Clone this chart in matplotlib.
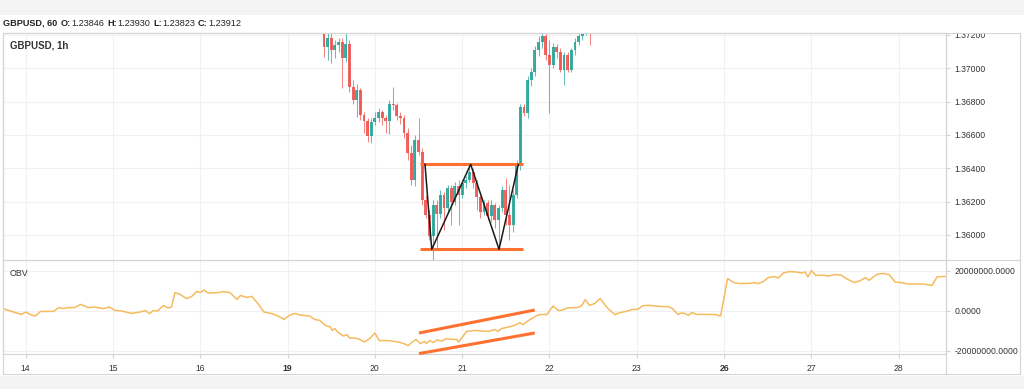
import numpy as np
import matplotlib
matplotlib.use("Agg")
import matplotlib.pyplot as plt
from matplotlib.patches import Rectangle
from matplotlib.lines import Line2D
from matplotlib.ticker import FuncFormatter

plt.rcParams['font.family'] = ['Liberation Sans', 'DejaVu Sans']

# x axis = trading sessions, 0 = the 14th, weekend skipped
day_labels = ["14", "15", "16", "19", "20", "21", "22", "23", "26", "27", "28"]
bold_days = ["19", "26"]

# hourly GBPUSD candles, hour counted from 00:00 of the 19th
candle_hour = list(range(10, 84))
opens = [1.37230, 1.37128, 1.37182, 1.37110, 1.37140, 1.37158, 1.37062, 1.37146, 1.36888, 1.36810,
         1.36870, 1.36720, 1.36684, 1.36594, 1.36678, 1.36702, 1.36738, 1.36702, 1.36684, 1.36786,
         1.36780, 1.36714, 1.36702, 1.36612, 1.36492, 1.36330, 1.36570, 1.36498, 1.36210, 1.36120,
         1.35994, 1.36180, 1.36126, 1.36240, 1.36162, 1.36282, 1.36198, 1.36294, 1.36240, 1.36312,
         1.36330, 1.36378, 1.36312, 1.36228, 1.36138, 1.36192, 1.36114, 1.36180, 1.36090, 1.36162,
         1.36270, 1.36120, 1.36060, 1.36240, 1.36420, 1.36768, 1.36732, 1.36930, 1.36978, 1.37110,
         1.37158, 1.37194, 1.37080, 1.37020, 1.37128, 1.37098, 1.36990, 1.37080, 1.36990, 1.37110,
         1.37158, 1.37194, 1.37230, 1.37278]
highs = [1.37260, 1.37230, 1.37212, 1.37170, 1.37182, 1.37182, 1.37212, 1.37170, 1.36930, 1.36906,
         1.36882, 1.36738, 1.36702, 1.36702, 1.36738, 1.36762, 1.36750, 1.36720, 1.36810, 1.36888,
         1.36792, 1.36738, 1.36720, 1.36642, 1.36540, 1.36600, 1.36702, 1.36522, 1.36240, 1.36150,
         1.36210, 1.36210, 1.36270, 1.36258, 1.36300, 1.36300, 1.36318, 1.36330, 1.36330, 1.36354,
         1.36420, 1.36402, 1.36330, 1.36240, 1.36210, 1.36210, 1.36210, 1.36192, 1.36180, 1.36294,
         1.36342, 1.36300, 1.36270, 1.36450, 1.36786, 1.36786, 1.36954, 1.37002, 1.37134, 1.37194,
         1.37218, 1.37212, 1.37170, 1.37152, 1.37146, 1.37122, 1.37098, 1.37098, 1.37122, 1.37182,
         1.37212, 1.37260, 1.37290, 1.37320]
lows = [1.37068, 1.37050, 1.37032, 1.37062, 1.37098, 1.36882, 1.37038, 1.36858, 1.36786, 1.36708,
        1.36690, 1.36612, 1.36558, 1.36552, 1.36660, 1.36678, 1.36660, 1.36612, 1.36606, 1.36750,
        1.36690, 1.36666, 1.36582, 1.36450, 1.36300, 1.36294, 1.36480, 1.36180, 1.36102, 1.35970,
        1.35850, 1.35910, 1.36102, 1.36030, 1.36138, 1.36060, 1.36180, 1.36060, 1.36222, 1.36282,
        1.36318, 1.36282, 1.36150, 1.36102, 1.36120, 1.36090, 1.36078, 1.36042, 1.35940, 1.36138,
        1.36060, 1.35970, 1.36018, 1.36222, 1.36390, 1.36714, 1.36702, 1.36894, 1.36954, 1.37074,
        1.37122, 1.37050, 1.36732, 1.37002, 1.37062, 1.36978, 1.36900, 1.36978, 1.36978, 1.37080,
        1.37140, 1.37170, 1.37200, 1.37140]
closes = [1.37128, 1.37182, 1.37110, 1.37140, 1.37158, 1.37062, 1.37146, 1.36888, 1.36810, 1.36870,
          1.36720, 1.36684, 1.36594, 1.36678, 1.36702, 1.36738, 1.36702, 1.36684, 1.36786, 1.36780,
          1.36714, 1.36702, 1.36612, 1.36492, 1.36330, 1.36570, 1.36498, 1.36210, 1.36120, 1.35994,
          1.36180, 1.36126, 1.36240, 1.36162, 1.36282, 1.36198, 1.36294, 1.36240, 1.36312, 1.36330,
          1.36378, 1.36312, 1.36228, 1.36138, 1.36192, 1.36114, 1.36180, 1.36090, 1.36162, 1.36270,
          1.36120, 1.36060, 1.36240, 1.36420, 1.36768, 1.36732, 1.36930, 1.36978, 1.37110, 1.37158,
          1.37194, 1.37080, 1.37020, 1.37128, 1.37098, 1.36990, 1.37080, 1.36990, 1.37110, 1.37158,
          1.37194, 1.37230, 1.37260, 1.37230]

# OBV (session units, millions)
obv_x = [-0.26, -0.14, -0.05, 0.00, 0.05, 0.11, 0.17, 0.32, 0.38, 0.43, 0.49, 0.56, 0.63, 0.72, 0.79,
         0.89, 0.96, 1.02, 1.10, 1.21, 1.31, 1.37, 1.42, 1.46, 1.51, 1.58, 1.63, 1.67, 1.71, 1.77,
         1.84, 1.90, 1.96, 2.00, 2.04, 2.09, 2.21, 2.26, 2.34, 2.42, 2.46, 2.53, 2.59, 2.66, 2.73,
         2.82, 2.89, 2.96, 3.02, 3.08, 3.14, 3.25, 3.31, 3.37, 3.43, 3.49, 3.51, 3.54, 3.58, 3.64,
         3.68, 3.71, 3.77, 3.83, 3.88, 3.94, 4.00, 4.05, 4.15, 4.27, 4.33, 4.38, 4.42, 4.47, 4.52,
         4.57, 4.59, 4.63, 4.67, 4.71, 4.77, 4.82, 4.88, 4.94, 4.96, 5.05, 5.15, 5.22, 5.30, 5.38,
         5.41, 5.45, 5.53, 5.60, 5.66, 5.70, 5.76, 5.86, 5.91, 5.97, 6.04, 6.10, 6.14, 6.20, 6.33,
         6.37, 6.41, 6.46, 6.52, 6.58, 6.67, 6.75, 6.81, 6.88, 6.94, 6.97, 7.01, 7.07, 7.15, 7.25,
         7.36, 7.41, 7.47, 7.51, 7.55, 7.59, 7.63, 7.69, 7.80, 7.90, 7.96, 8.04, 8.11, 8.18, 8.30,
         8.34, 8.39, 8.45, 8.51, 8.58, 8.62, 8.68, 8.75, 8.83, 8.89, 8.93, 8.96, 9.00, 9.05, 9.12,
         9.19, 9.27, 9.34, 9.40, 9.49, 9.56, 9.62, 9.66, 9.75, 9.82, 9.89, 9.96, 10.03, 10.11, 10.28,
         10.38, 10.44, 10.49, 10.54]
obv_m = [1.2, -0.5, -1.7, -0.5, -1.7, -2.5, -0.2, -0.2, 1.7, 1.2, 1.7, 1.7, 3.3, 1.7, 2.0,
         1.2, 2.0, 0.3, 0.0, -1.2, -0.5, 0.2, -1.3, 0.2, 0.0, 2.8, 1.5, 2.0, 9.2, 8.3,
         6.2, 7.2, 9.8, 9.2, 10.5, 9.0, 9.2, 9.7, 9.2, 5.8, 7.8, 6.8, 7.3, 3.7, -0.5,
         -1.3, -2.5, -4.2, -2.2, -1.2, -2.0, -2.5, -4.2, -4.7, -7.2, -8.0, -9.7, -8.8, -10.8, -12.5,
         -11.8, -13.5, -13.5, -14.2, -15.5, -13.8, -11.0, -14.8, -14.8, -15.5, -16.3, -17.3, -15.8, -14.2, -16.3,
         -15.2, -16.2, -14.8, -15.8, -14.5, -15.0, -13.8, -14.2, -14.2, -15.5, -10.2, -9.7, -10.0, -10.2, -9.3,
         -10.2, -8.8, -8.0, -7.2, -5.8, -6.8, -4.7, -2.2, -1.7, -1.8, 2.5, 0.3, 0.3, 1.5, 1.8,
         2.8, 5.7, 2.8, 3.8, 6.2, 1.2, -1.8, -0.8, -0.2, 0.7, 0.8, 0.8, 2.7, 2.8, 2.3,
         2.2, 1.2, -1.7, -1.0, -1.2, -2.2, -0.8, -1.7, -1.7, -1.8, -2.5, 16.2, 14.2, 13.7, 13.8,
         14.2, 13.7, 14.8, 16.8, 17.2, 16.5, 19.0, 19.7, 19.5, 19.0, 19.5, 17.0, 20.2, 17.8, 18.0,
         17.5, 18.2, 18.0, 16.2, 14.2, 15.2, 16.7, 15.3, 18.3, 18.8, 18.2, 14.5, 14.2, 13.5, 13.5,
         12.8, 17.0, 17.2, 17.3]

# double bottom drawing
w_x = [4.574, 4.651, 5.097, 5.422, 5.643]
w_y = [1.36424, 1.35914, 1.36424, 1.35914, 1.36424]
box_x = [4.516, 5.693]
neck, base = 1.36424, 1.35914
div_x = [4.505, 5.831]
div_upper = [-11.0, 0.5]
div_lower = [-21.3, -11.0]

price_ticks = [1.360, 1.362, 1.364, 1.366, 1.368, 1.370, 1.372]
obv_ticks = [-20e6, 0, 20e6]

up_c = '#26a69a'
dn_c = '#ef5350'
grid_c = '#f1f1f1'
edge_c = '#d4d4d4'
mark_c = '#ff7131'

W, H = 1024, 389
fig = plt.figure(figsize=(W / 100, H / 100), dpi=100, facecolor='#f3f3f3')
fig.add_artist(Rectangle((0, 1 - 376 / H), 1, 361 / H, transform=fig.transFigure,
                         facecolor='white', edgecolor='none', zorder=-5))

ax = fig.add_axes([3 / W, 1 - 260 / H, 943 / W, 227 / H])
ax2 = fig.add_axes([3 / W, 1 - 354 / H, 943 / W, 94 / H], sharex=ax)

day_pos = list(range(len(day_labels)))

# candles
cx = 3 + np.array(candle_hour) / 24.0
for x, o, h, l, c in zip(cx, opens, highs, lows, closes):
    col = up_c if c >= o else dn_c
    ax.plot([x, x], [l, h], color=col, lw=0.75, alpha=0.7, solid_capstyle='butt', zorder=2)
    ax.add_patch(Rectangle((x - 0.0165, min(o, c)), 0.033, max(abs(c - o), 0.00002),
                           facecolor=col, edgecolor='none', alpha=0.9, zorder=3))

ax.plot(box_x, [neck, neck], color=mark_c, lw=2.2, solid_capstyle='butt', zorder=4)
ax.plot(box_x, [base, base], color=mark_c, lw=2.2, solid_capstyle='butt', zorder=4)
ax.plot(w_x, w_y, color='#1a1a1a', lw=1.1, zorder=5)

ax.set_xlim(-0.26, 10.542)
ax.set_ylim(1.3585, 1.37212)
ax.set_yticks(price_ticks)
ax.yaxis.set_major_formatter(FuncFormatter(lambda v, p: f"{v:.5f}"))
ax.set_xticks(day_pos)
ax.tick_params(axis='x', length=0, labelbottom=False)

# OBV
ax2.plot(obv_x, np.array(obv_m) * 1e6, color='#f5bb5e', lw=1.1, zorder=3)
ax2.plot(div_x, np.array(div_upper) * 1e6, color=mark_c, lw=2.2, solid_capstyle='butt', zorder=4)
ax2.plot(div_x, np.array(div_lower) * 1e6, color=mark_c, lw=2.2, solid_capstyle='butt', zorder=4,
         clip_on=False)
ax2.set_ylim(-21.5e6, 25.5e6)
ax2.set_yticks(obv_ticks)
ax2.yaxis.set_major_formatter(FuncFormatter(lambda v, p: f"{v:.4f}"))
ax2.set_xticks(day_pos)
ax2.set_xticklabels(day_labels)
for t in ax2.get_xticklabels():
    if t.get_text() in bold_days:
        t.set_fontweight('bold')
ax2.tick_params(axis='x', length=3, color=edge_c, labelsize=6.2, labelcolor='#333333', pad=4)

for a in (ax, ax2):
    a.set_facecolor('none')
    a.yaxis.tick_right()
    a.tick_params(axis='y', length=3, color=edge_c, labelsize=6.2, labelcolor='#333333', pad=3)
    a.grid(True, color=grid_c, lw=0.8)
    a.set_axisbelow(True)
    for s in a.spines.values():
        s.set_color(edge_c)
        s.set_linewidth(0.8)
ax2.spines['top'].set_visible(False)

# outer frame and separators
fig.add_artist(Rectangle((3 / W, 1 - 374 / H), 1017 / W, 341 / H, transform=fig.transFigure,
                         fill=False, edgecolor=edge_c, lw=0.8, zorder=6))
fig.add_artist(Line2D([946 / W, 946 / W], [1 - 374 / H, 1 - 33 / H], transform=fig.transFigure,
                      color=edge_c, lw=0.8, zorder=6))
fig.add_artist(Line2D([3 / W, 1020 / W], [1 - 260 / H, 1 - 260 / H], transform=fig.transFigure,
                      color=edge_c, lw=0.8, zorder=6))
# hide the half of the top price label that sits above the pane
fig.add_artist(Rectangle((947 / W, 1 - 32.6 / H), 72 / W, 10 / H, transform=fig.transFigure,
                         facecolor='white', edgecolor='none', zorder=7))

# header line with bold keys
parts = [("GBPUSD, 60", 'bold'), (" ", 'normal'), ("O:", 'bold'), ("1.23846", 'normal'),
         (" ", 'normal'), ("H:", 'bold'), ("1.23930", 'normal'), (" ", 'normal'),
         ("L:", 'bold'), ("1.23823", 'normal'), (" ", 'normal'), ("C:", 'bold'),
         ("1.23912", 'normal')]
r = fig.canvas.get_renderer()
xpos = 3 / W
for s, wgt in parts:
    t = fig.text(xpos, 1 - 23 / H, s, fontsize=6.6, fontweight=wgt, color='#222222',
                 va='center', ha='left')
    if s == " ":
        xpos += 2.5 / W
        t.set_visible(False)
        continue
    xpos += t.get_window_extent(renderer=r).width / W + 0.5 / W

ax.text(0.007, 0.945, "GBPUSD, 1h", transform=ax.transAxes, fontsize=7, fontweight='bold',
        color='#333333', va='center', ha='left')
ax2.text(0.007, 0.86, "OBV", transform=ax2.transAxes, fontsize=6.4, color='#333333',
         va='center', ha='left')

fig.savefig("out.png", dpi=100, facecolor=fig.get_facecolor())
